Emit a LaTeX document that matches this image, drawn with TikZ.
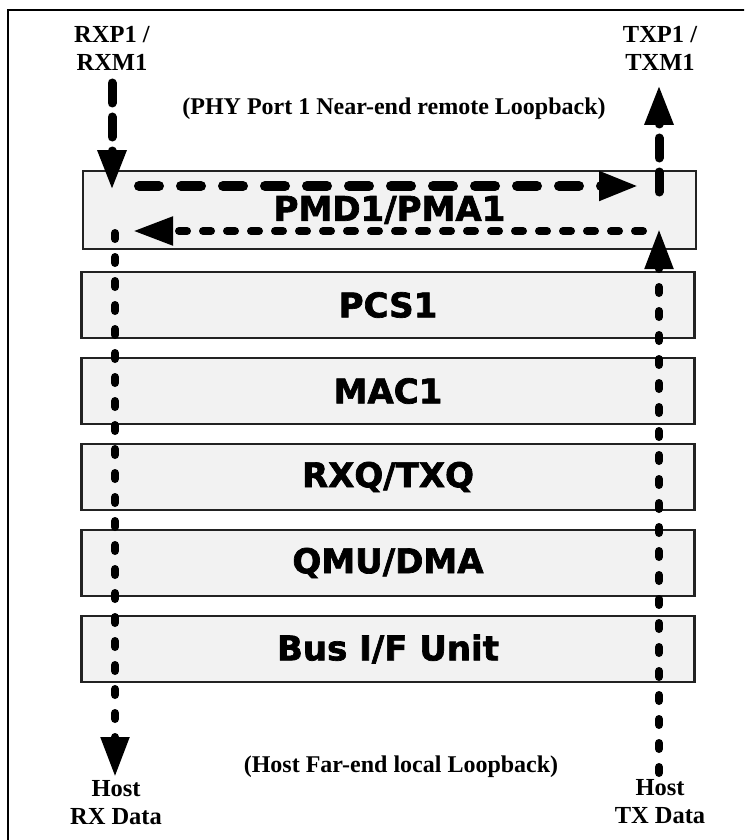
\documentclass[tikz,border=0pt]{standalone}
\usepackage{fontspec}
\setmainfont{Liberation Serif}
\newfontfamily\layerfont{DejaVu Sans}[BoldFont={DejaVu Sans Bold},BoldFeatures={FakeBold=2}]
\usetikzlibrary{arrows.meta}
\definecolor{layerfill}{RGB}{242,242,242}
\definecolor{layerline}{RGB}{34,34,34}
\tikzset{>={Triangle[length=40pt,width=27pt]},
  layer/.style={draw=layerline,line width=2.5pt,fill=layerfill,minimum width=613pt,minimum height=66pt,inner sep=0pt,font=\layerfont\bfseries\fontsize{34}{34}\selectfont},
  port/.style={align=center,inner sep=0pt,font=\bfseries\fontsize{24.5}{28}\selectfont},
  note/.style={inner sep=0pt,anchor=base,font=\bfseries\fontsize{24}{28}\selectfont},
  dashflow/.style={line width=9pt,line cap=round,dash pattern=on 20pt off 14pt},
  dotflow/.style={line width=8pt,line cap=round,dash pattern=on 6pt off 18pt}}

\begin{document}
\begin{tikzpicture}[x=1pt,y=-1pt]
\clip (0,0) rectangle (744,840);
\draw[line width=2.5pt] (8,10) rectangle (770,870);
% layers
\node[layer,minimum height=78pt] (PMD) at (389.5,210) {PMD1/PMA1};
\node[layer] (PCS) at (388,305) {PCS1};
\node[layer] (MAC) at (388,391) {MAC1};
\node[layer] (RXQ) at (388,477) {RXQ/TXQ};
\node[layer] (QMU) at (388,563) {QMU/DMA};
\node[layer] (BUS) at (388,649) {Bus I/F Unit};
% labels
\node[port,anchor=north] (RXP) at (112,26) {RXP1 /\\RXM1};
\node[port,anchor=north] (TXP) at (660,26) {TXP1 /\\TXM1};
\node[port,anchor=north] (HRX) at (116,780) {Host\\RX Data};
\node[port,anchor=north] (HTX) at (660,779) {Host\\TX Data};
\node[note] (NL) at (394,115) {(PHY Port 1 Near-end remote Loopback)};
\node[note] (FL) at (401,772) {(Host Far-end local Loopback)};
% loopback paths
\coordinate (rxin) at (112,83);
\coordinate (rxpmd) at (112,190);
\coordinate (nlstart) at (139,186);
\coordinate (nlend) at (639,186);
\coordinate (txpmd) at (659,192);
\coordinate (txout) at (659,85);
\coordinate (flstart) at (643,231);
\coordinate (flend) at (133,231);
\coordinate (rxtop) at (115,233);
\coordinate (rxhost) at (115,777);
\coordinate (txhost) at (659,773);
\coordinate (txtop) at (659,229);
\path[->] (rxin) edge[dashflow] (rxpmd);
\path[->] (nlstart) edge[dashflow,line width=10pt,dash pattern=on 20pt off 22pt] (nlend);
\path[->] (txpmd) edge[dashflow] (txout);
\path[->] (flstart) edge[dotflow,dash pattern=on 8pt off 16pt] (flend);
\path[->] (rxtop) edge[dotflow] (rxhost);
\path[->] (txhost) edge[dotflow] (txtop);
\end{tikzpicture}
\end{document}
